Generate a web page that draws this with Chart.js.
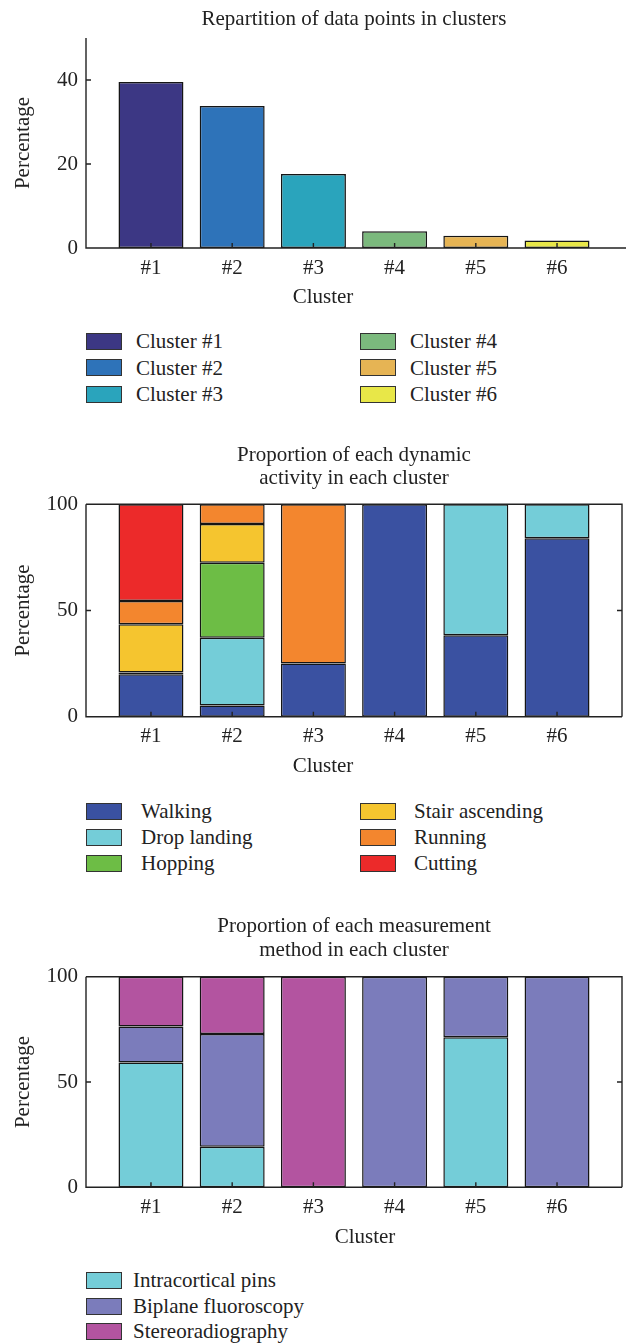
<!DOCTYPE html>
<html><head><meta charset="utf-8">
<script src="https://cdn.jsdelivr.net/npm/chart.js@4.4.0/dist/chart.umd.min.js"></script>
<style>
body{margin:0;background:#fff;width:626px;height:1344px;position:relative;overflow:hidden;font-family:"Liberation Serif",serif;color:#222;}
canvas{position:absolute;left:0;}
.item{position:absolute;white-space:nowrap;height:26px;line-height:26px;font-size:21px;color:#222;}
.sw{position:absolute;width:34px;height:15px;border:1px solid #333;}
</style></head>
<body>
<canvas id="c1" width="626" height="315" style="top:0px"></canvas>
<canvas id="c2" width="626" height="350" style="top:430px"></canvas>
<canvas id="c3" width="626" height="350" style="top:900px"></canvas>
<div id="legends"></div>
<script>
// ---------- DATA ----------
const clusters = ['#1', '#2', '#3', '#4', '#5', '#6'];
const clusterNames = ['Cluster #1', 'Cluster #2', 'Cluster #3', 'Cluster #4', 'Cluster #5', 'Cluster #6'];
const shareValues = [39.5, 33.8, 17.6, 4.0, 2.9, 1.8];
const clusterColors = ['#3c3784', '#2e73b9', '#2aa4bc', '#7bb97d', '#e6b454', '#e8e748'];
const yTicks1 = [0, 20, 40];

const activities = ['Walking', 'Drop landing', 'Hopping', 'Stair ascending', 'Running', 'Cutting'];
const activityColors = ['#3a51a1', '#74cdd8', '#6dbd45', '#f5c52f', '#f3862e', '#ec2a2a'];
const walking        = [20.0, 5.3, 25.0, 100, 38.3, 84.0];
const dropLanding    = [0.8, 31.9, 0, 0, 61.7, 16.0];
const hopping        = [0, 35.3, 0, 0, 0, 0];
const stairAscending = [22.7, 18.2, 0, 0, 0, 0];
const running        = [11.0, 9.3, 75.0, 0, 0, 0];
const cutting        = [45.5, 0, 0, 0, 0, 0];
const activitySeries = [walking, dropLanding, hopping, stairAscending, running, cutting];

const methods = ['Intracortical pins', 'Biplane fluoroscopy', 'Stereoradiography'];
const methodColors = ['#74cdd8', '#7b7cbb', '#b354a0'];
const intracorticalPins = [59.2, 19.3, 0, 0, 71.2, 0];
const biplaneFluoroscopy = [17.1, 53.5, 0, 100, 28.8, 100];
const stereoradiography = [23.7, 27.2, 100, 0, 0, 0];
const methodSeries = [intracorticalPins, biplaneFluoroscopy, stereoradiography];
const yTicks2 = [0, 50, 100];

// ---------- STYLE ----------
const FONT = 'Liberation Serif';
const TXT = '#222';
const f = (lh) => ({family: FONT, size: 21, weight: 'normal', lineHeight: lh});

const axisPlugin = {
  id: 'axisDecor',
  afterDatasetsDraw(chart, args, opts) {
    const {ctx, chartArea: a, scales: {x, y}} = chart;
    ctx.save();
    ctx.strokeStyle = '#222';
    ctx.lineWidth = 1.4;
    ctx.beginPath();
    const xEnd = opts.box ? a.right : chart.width;
    ctx.moveTo(a.left, a.top); ctx.lineTo(a.left, a.bottom); ctx.lineTo(xEnd, a.bottom);
    if (opts.box) { ctx.moveTo(a.left, a.top); ctx.lineTo(a.right, a.top); ctx.lineTo(a.right, a.bottom); }
    x.ticks.forEach(t => { const px = x.getPixelForValue(t.value); ctx.moveTo(px, a.bottom); ctx.lineTo(px, a.bottom - 5); });
    y.ticks.forEach(t => {
      const py = y.getPixelForValue(t.value);
      ctx.moveTo(a.left, py); ctx.lineTo(a.left + 5, py);
      if (opts.box) { ctx.moveTo(a.right, py); ctx.lineTo(a.right - 5, py); }
    });
    ctx.stroke();
    // x-axis title, placed like the original figure
    ctx.fillStyle = TXT;
    ctx.font = '21px "' + FONT + '"';
    ctx.textAlign = 'center';
    ctx.textBaseline = 'middle';
    ctx.fillText(opts.xTitle, opts.xTitleX, opts.xTitleY);
    ctx.restore();
  }
};

function makeChart(id, cfg) {
  const H = document.getElementById(id).height;
  const datasets = cfg.series.map((vals, k) => ({
    label: cfg.names[k],
    data: vals.map((v, i) => ({x: i + 1, y: v})),
    backgroundColor: cfg.colors[k],
    borderColor: '#151515',
    borderWidth: 1.5,
    borderSkipped: false,
    categoryPercentage: 1.0,
    barPercentage: 0.8
  }));
  return new Chart(document.getElementById(id), {
    type: 'bar',
    data: {datasets},
    plugins: [axisPlugin],
    options: {
      responsive: false,
      animation: false,
      events: [],
      layout: {padding: {left: 0, right: 4, top: 0, bottom: 0}},
      plugins: {
        legend: {display: false},
        tooltip: {enabled: false},
        title: {display: true, fullSize: false, text: cfg.title, color: TXT, font: f(cfg.titleLH + 'px'),
                padding: {top: cfg.titlePad[0], bottom: cfg.titlePad[1]}},
        axisDecor: {box: cfg.box, xTitle: 'Cluster', xTitleX: cfg.xTitleX, xTitleY: cfg.xTitleY}
      },
      scales: {
        x: {
          type: 'linear', min: 0.2, max: 6.8, offset: false, stacked: true,
          grid: {display: false, drawTicks: false, offset: false},
          border: {display: false},
          afterBuildTicks: s => { s.ticks = clusters.map((c, i) => ({value: i + 1})); },
          ticks: {padding: 8, color: TXT, font: f('24px'), maxRotation: 0, autoSkip: false,
                  callback: v => clusters[Math.round(v) - 1]},
          title: {display: false},
          afterFit: s => { s.height = H - cfg.plotBottom; }
        },
        y: {
          min: 0, max: cfg.yMax, stacked: true,
          grid: {display: false, drawTicks: false},
          border: {display: false},
          afterBuildTicks: s => { s.ticks = cfg.yTicks.map(v => ({value: v})); },
          ticks: {padding: 8, color: TXT, font: f('24px')},
          title: {display: true, text: 'Percentage', color: TXT, font: f('23px'),
                  padding: {top: 12, bottom: 0}},
          afterFit: s => { s.width = 86; }
        }
      }
    }
  });
}

makeChart('c1', {
  title: 'Repartition of data points in clusters', titleLH: 23, titlePad: [8, 7],
  series: [shareValues], names: ['Share'], colors: [clusterColors],
  yMax: 50, yTicks: yTicks1, plotBottom: 248, xTitleX: 323, xTitleY: 297, box: false
});
makeChart('c2', {
  title: ['Proportion of each dynamic', 'activity in each cluster'], titleLH: 23, titlePad: [14, 14.3],
  series: activitySeries, names: activities, colors: activityColors,
  yMax: 100, yTicks: yTicks2, plotBottom: 286.7, xTitleX: 323, xTitleY: 336, box: true
});
makeChart('c3', {
  title: ['Proportion of each measurement', 'method in each cluster'], titleLH: 24, titlePad: [14, 14.7],
  series: methodSeries, names: methods, colors: methodColors,
  yMax: 100, yTicks: yTicks2, plotBottom: 287.3, xTitleX: 365, xTitleY: 337, box: true
});

// ---------- HTML legends ----------
function legend(names, colors, rowsY, col1Text, col2Text, perCol) {
  const host = document.getElementById('legends');
  names.forEach((n, i) => {
    const col = Math.floor(i / perCol), row = i % perCol;
    const swLeft = col === 0 ? 86 : 360;
    const txtLeft = col === 0 ? col1Text : col2Text;
    const cy = rowsY[row];
    const sw = document.createElement('div');
    sw.className = 'sw';
    sw.style.left = swLeft + 'px'; sw.style.top = (cy - 8.5) + 'px'; sw.style.background = colors[i];
    host.appendChild(sw);
    const t = document.createElement('div');
    t.className = 'item';
    t.style.left = txtLeft + 'px'; t.style.top = (cy - 13) + 'px';
    t.textContent = n;
    host.appendChild(t);
  });
}
legend(clusterNames, clusterColors, [341, 367.5, 394], 136, 410, 3);
legend(activities, activityColors, [811, 837, 863], 141, 414, 3);
legend(methods, methodColors, [1280, 1306, 1331], 133, 410, 3);
</script>
</body></html>
